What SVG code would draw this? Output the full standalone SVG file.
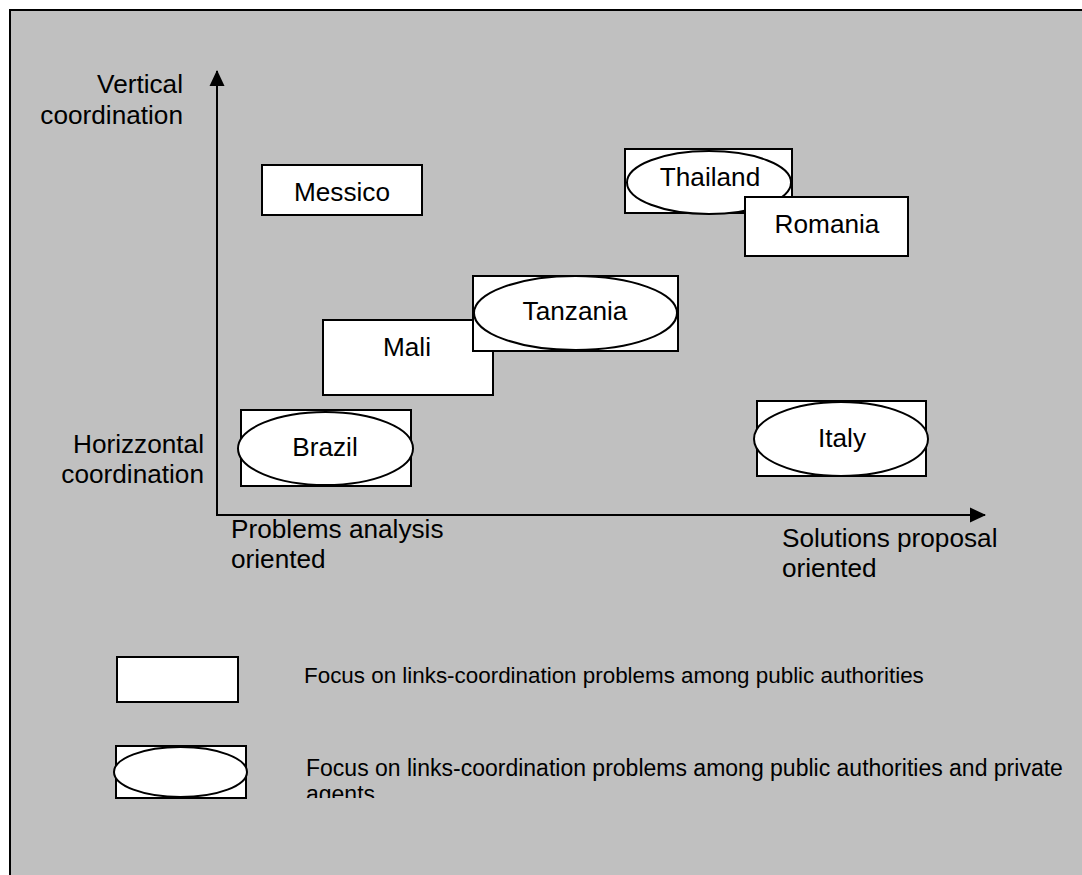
<svg xmlns="http://www.w3.org/2000/svg" width="1082" height="875" viewBox="0 0 1082 875">
  <style>
    .box { fill: #ffffff; stroke: #000000; stroke-width: 2; }
    .oval { fill: #ffffff; stroke: #000000; stroke-width: 2; }
    .axis { fill: none; stroke: #000000; stroke-width: 2; }
    .lbl { font-family: "Liberation Sans", Arial, sans-serif; font-size: 26.2px; fill: #000000; }
    .mid { text-anchor: middle; }
    .end { text-anchor: end; }
    .legend { font-family: "Liberation Sans", Arial, sans-serif; font-size: 22.4px; fill: #000000; }
    .legend2 { font-family: "Liberation Sans", Arial, sans-serif; font-size: 23px; fill: #000000; }
  </style>
  <defs>
    <marker id="arrow" markerUnits="userSpaceOnUse" markerWidth="16" markerHeight="16" viewBox="0 0 16 16" refX="15" refY="8" orient="auto">
      <path d="M0,0.5 L16,8 L0,15.5 Z" fill="#000000"/>
    </marker>
    <clipPath id="legendClip">
      <rect x="290" y="740" width="792" height="58"/>
    </clipPath>
  </defs>

  <!-- page and frame -->
  <rect x="0" y="0" width="1082" height="875" fill="#ffffff"/>
  <rect x="10" y="10" width="1080" height="880" fill="#c0c0c0"/>
  <path d="M10,880 V10 H1090" class="axis"/>

  <!-- axes -->
  <g id="connectors">
    <line class="axis" x1="217" y1="515" x2="217" y2="71" marker-end="url(#arrow)"/>
    <line class="axis" x1="216" y1="515" x2="985" y2="515" marker-end="url(#arrow)"/>
  </g>

  <!-- axis captions -->
  <g id="axis-labels">
    <text class="lbl end" x="183" y="93">Vertical</text>
    <text class="lbl end" x="183" y="124">coordination</text>
    <text class="lbl end" x="204" y="453">Horizzontal</text>
    <text class="lbl end" x="204" y="483">coordination</text>
    <text class="lbl" x="231" y="538">Problems analysis</text>
    <text class="lbl" x="231" y="568">oriented</text>
    <text class="lbl" x="782" y="547">Solutions proposal</text>
    <text class="lbl" x="782" y="577">oriented</text>
  </g>

  <!-- countries -->
  <g id="messico">
    <rect class="box" x="262" y="165" width="160" height="50"/>
    <text class="lbl mid" x="342" y="201">Messico</text>
  </g>

  <g id="thailand">
    <rect class="box" x="625" y="149" width="167" height="64"/>
    <ellipse class="oval" cx="709" cy="182.5" rx="82" ry="31.5"/>
    <text class="lbl mid" x="710" y="186">Thailand</text>
  </g>

  <g id="romania">
    <rect class="box" x="745" y="197" width="163" height="59"/>
    <text class="lbl mid" x="827" y="233">Romania</text>
  </g>

  <g id="mali">
    <rect class="box" x="323" y="320" width="170" height="75"/>
    <text class="lbl mid" x="407" y="356">Mali</text>
  </g>

  <g id="tanzania">
    <rect class="box" x="473" y="276" width="205" height="75"/>
    <ellipse class="oval" cx="575.5" cy="313" rx="101.5" ry="37"/>
    <text class="lbl mid" x="575" y="320">Tanzania</text>
  </g>

  <g id="brazil">
    <rect class="box" x="241" y="410" width="170" height="76"/>
    <ellipse class="oval" cx="325.5" cy="448.5" rx="87.5" ry="36.5"/>
    <text class="lbl mid" x="325" y="456">Brazil</text>
  </g>

  <g id="italy">
    <rect class="box" x="757" y="401" width="169" height="75"/>
    <ellipse class="oval" cx="841" cy="439" rx="87" ry="37"/>
    <text class="lbl mid" x="842" y="447">Italy</text>
  </g>

  <!-- key -->
  <g id="legend-public">
    <rect class="box" x="117" y="657" width="121" height="45"/>
    <text class="legend" x="304" y="683">Focus on links-coordination problems among public authorities</text>
  </g>

  <g id="legend-private">
    <rect class="box" x="116" y="746" width="130" height="52"/>
    <ellipse class="oval" cx="180.5" cy="772" rx="66.5" ry="25"/>
    <g clip-path="url(#legendClip)">
      <text class="legend2" x="306" y="776">Focus on links-coordination problems among public authorities and private</text>
      <text class="legend2" x="306" y="802">agents</text>
    </g>
  </g>
</svg>
